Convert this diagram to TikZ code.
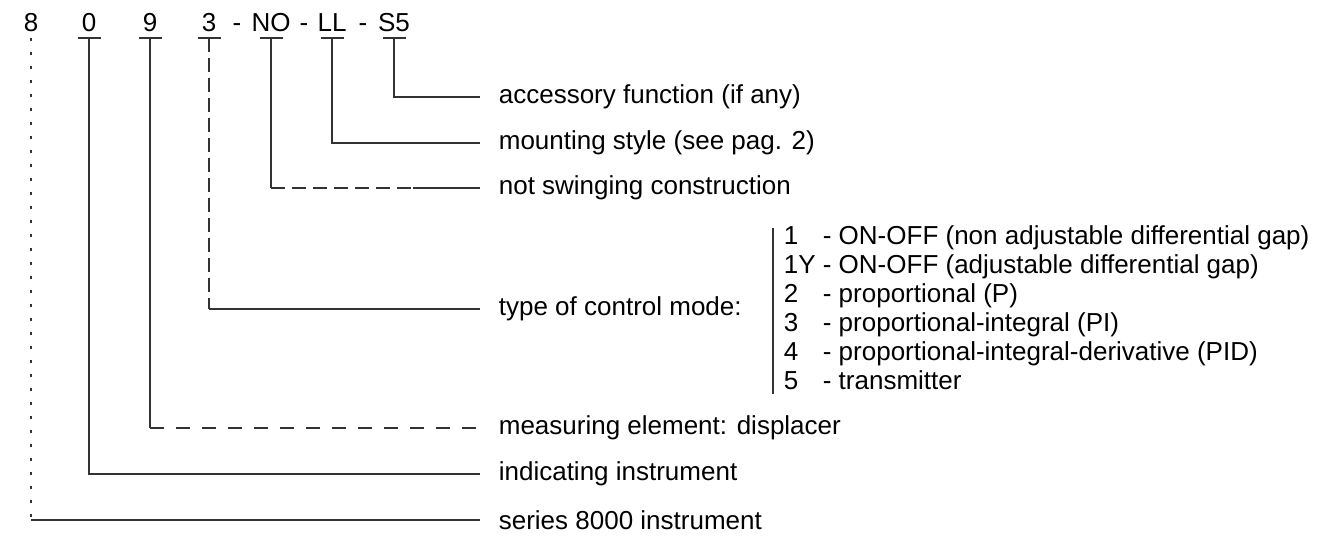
\documentclass[tikz,border=0pt]{standalone}
\usepackage{fontspec}
\setmainfont{Liberation Sans}
\begin{document}
\begin{tikzpicture}[x=1pt,y=-1pt,line width=1.7pt,
  every node/.style={font=\fontsize{26}{29}\selectfont},
  code/.style={anchor=base,inner ysep=5pt,text depth=0pt},
  lbl/.style={anchor=west,inner xsep=18pt,inner ysep=0pt},
  wire/.style={draw=black!80}]
\useasboundingbox (0,0) rectangle (1332,535);

% model code
\node[code] (c8) at (31,32) {8};
\node[code] (c0) at (89,32) {0};
\node[code] (c9) at (150,32) {9};
\node[code] (c3) at (209,32) {3};
\node[code] (d1) at (237,32) {-};
\node[code] (cNO) at (271,32) {NO};
\node[code] (d2) at (304,32) {-};
\node[code] (cLL) at (332,32) {LL};
\node[code] (d3) at (363,32) {-};
\node[code] (cS5) at (394,32) {S5};

\foreach \c in {c0,c9,c3,cNO,cLL,cS5}
  \draw[wire] ([xshift=-11.5pt]\c.south) -- ([xshift=11.5pt]\c.south);

% meanings
\node[lbl] (lAcc) at (480,97) {accessory function (if any)};
\node[lbl] (lMou) at (480,143) {mounting style (see pag. 2)};
\node[lbl] (lNot) at (480,188) {not swinging construction};
\node[lbl] (lTyp) at (480,309) {type of control mode:};
\node[lbl] (lMea) at (480,428) {measuring element: displacer};
\node[lbl] (lInd) at (480,474) {indicating instrument};
\node[lbl] (lSer) at (480,520) {series 8000 instrument};

\node[anchor=west,inner xsep=10pt,inner ysep=0pt] (modes) at (773,311) {%
  \begin{tabular}{@{}l@{ }l@{}}
  1  & - ON-OFF (non adjustable differential gap)\\
  1Y & - ON-OFF (adjustable differential gap)\\
  2  & - proportional (P)\\
  3  & - proportional-integral (PI)\\
  4  & - proportional-integral-derivative (PID)\\
  5  & - transmitter
  \end{tabular}};
\draw[wire] ([yshift=-5pt]modes.north west) -- ([yshift=5pt]modes.south west);

% leader lines
\draw[wire] (cS5.south) |- (lAcc.west);
\draw[wire] (cLL.south) |- (lMou.west);

\coordinate (kNO) at (cNO.south |- lNot.west);
\path (lNot.west) ++(-67,0) coordinate (mNO);
\draw[wire] (cNO.south) -- (kNO);
\draw[wire,dashed,dash pattern=on 14pt off 7pt] (kNO) -- (mNO);
\draw[wire] (mNO) -- (lNot.west);

\coordinate (k3) at (c3.south |- lTyp.west);
\draw[wire,dash pattern=on 14pt off 6pt] (c3.south) -- (k3);
\draw[wire] (k3) -- (lTyp.west);

\coordinate (k9) at (c9.south |- lMea.west);
\draw[wire] (c9.south) -- (k9);
\draw[wire,dash pattern=on 14pt off 12pt] (k9) -- (lMea.west);

\draw[wire] (c0.south) |- (lInd.west);

\coordinate (k8) at (c8.south |- lSer.west);
\draw[wire,line width=1.2pt,dash pattern=on 3pt off 11pt] (c8.south) -- (k8);
\draw[wire] (k8) -- (lSer.west);
\end{tikzpicture}
\end{document}
